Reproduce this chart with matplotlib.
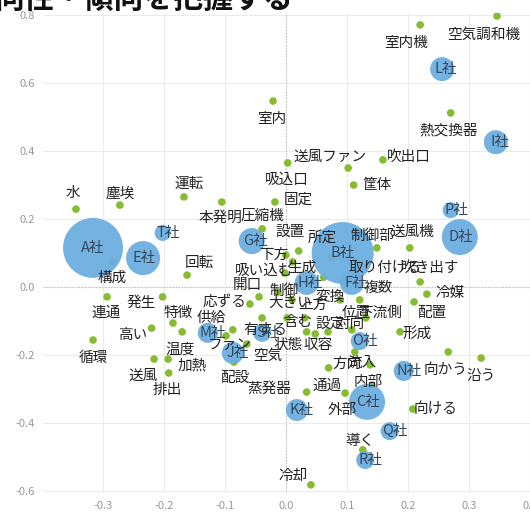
import matplotlib
matplotlib.use("Agg")
import matplotlib.pyplot as plt
import numpy as np

plt.rcParams['font.family'] = ['Noto Sans CJK JP', 'DejaVu Sans']

# words (green points)
words = ['空気調和機', '室内機', '室内', '熱交換器', '吸込口', '送風ファン', '吹出口', '筐体',
         '固定', '水', '塵埃', '運転', '本発明', '圧縮機', '設置', '所定', '制御部', '送風機',
         '取り付ける', '吹き出す', '複数', '冷媒', '配置', '下流側', '形成', '向かう', '沿う',
         '向ける', '導く', '冷却', '蒸発器', '通過', '外部', '方向', '流入', '内部', '状態',
         '収容', '空気', 'ファン', '配設', '循環', '送風', '加熱', '排出', '温度', '高い',
         '連通', '構成', '発生', '特徴', '回転', '供給', '応ずる', '開口', '下方', '吸い込む',
         '生成', '制御', '変換', '上方', '位置', '設定', '対向', '含む', '大きい', '有する']
word_x = [0.346, 0.220, -0.021, 0.270, 0.003, 0.102, 0.159, 0.111,
          -0.018, -0.344, -0.272, -0.167, -0.105, -0.039, 0.021, 0.074, 0.149, 0.203,
          0.115, 0.220, 0.121, 0.231, 0.210, 0.131, 0.187, 0.266, 0.320,
          0.208, 0.126, 0.041, 0.034, 0.070, 0.097, 0.113, 0.138, 0.141, 0.034,
          0.069, -0.064, -0.098, -0.085, -0.316, -0.216, -0.193, -0.192, -0.170, -0.220,
          -0.293, -0.284, -0.202, -0.185, -0.162, -0.087, -0.059, -0.044, 0.000, 0.011,
          -0.002, 0.010, 0.062, 0.031, 0.089, 0.048, 0.108, 0.002, -0.013, -0.039]
word_y = [0.797, 0.771, 0.547, 0.512, 0.365, 0.350, 0.374, 0.300,
          0.250, 0.229, 0.241, 0.265, 0.250, 0.171, 0.106, 0.085, 0.115, 0.115,
          0.074, 0.015, -0.038, -0.021, -0.044, -0.091, -0.132, -0.191, -0.209,
          -0.359, -0.479, -0.582, -0.309, -0.238, -0.312, -0.191, -0.229, -0.288, -0.132,
          -0.132, -0.168, -0.144, -0.221, -0.156, -0.212, -0.212, -0.253, -0.132, -0.121,
          -0.029, 0.074, -0.029, -0.106, 0.035, -0.126, -0.050, -0.029, 0.094, 0.074,
          0.041, -0.038, 0.029, -0.091, -0.038, -0.138, -0.126, -0.091, -0.015, -0.091]

# companies (blue bubbles)
companies = ['A社', 'B社', 'E社', 'T社', 'G社', 'F社', 'H社', 'D社', 'P社', 'L社',
             'I社', 'M社', 'J社', 'S社', 'O社', 'N社', 'C社', 'K社', 'Q社', 'R社']
comp_x = [-0.316, 0.093, -0.234, -0.202, -0.056, 0.108, 0.034, 0.285, 0.270, 0.256,
          0.344, -0.128, -0.087, -0.039, 0.121, 0.193, 0.133, 0.018, 0.170, 0.130]
comp_y = [0.115, 0.100, 0.085, 0.159, 0.135, 0.012, 0.012, 0.147, 0.226, 0.641,
          0.426, -0.135, -0.194, -0.135, -0.159, -0.247, -0.338, -0.362, -0.424, -0.509]
comp_n = [900, 960, 290, 64, 170, 144, 144, 324, 64, 144,
          144, 100, 121, 81, 81, 100, 324, 121, 81, 81]

# label offsets in pixels (right, down) so the labels sit like the original
lab_off = [(-13, 19), (-14, 18), (-1, 18), (-2, 18), (-1, 17), (-18, -11), (26, -3), (23, 0),
           (23, -2), (-3, -16), (0, -11), (5, -13), (-1, 16), (0, -13), (-9, -19), (-9, -20),
           (-4, -12), (3, -16), (29, 6), (10, -14), (18, -12), (23, -1), (18, 11), (14, -5),
           (17, 2), (-3, 18), (0, 18), (23, 0), (-3, -9), (-18, -9), (-37, -3), (-1, 18),
           (-3, 17), (-8, 12), (-8, -2), (-4, -3), (-18, 13), (-10, 13), (21, 12), (4, 9),
           (1, 16), (0, 18), (-11, 17), (24, 6), (-1, 17), (-2, 18), (-19, 7), (-1, 16),
           (0, 16), (-21, 6), (5, -10), (12, -12), (-21, -12), (-25, -2), (-12, -12), (-12, 0),
           (-28, 9), (17, -5), (-8, -9), (6, 20), (8, -13), (16, 13), (15, -10), (-2, -6),
           (11, 4), (12, 11), (3, 12)]

fig = plt.figure(figsize=(5.3, 5.15), dpi=100)
ax = fig.add_axes([43 / 530, 1 - 493 / 515, 487 / 530, 480 / 515])

ax.set_xlim(-0.398, 0.4)
ax.set_ylim(-0.606, 0.806)
ax.set_xticks(np.arange(-0.3, 0.41, 0.1))
ax.set_yticks(np.arange(-0.6, 0.81, 0.2))
ax.xaxis.set_major_formatter(matplotlib.ticker.FormatStrFormatter('%.1f'))
ax.yaxis.set_major_formatter(matplotlib.ticker.FormatStrFormatter('%.1f'))
ax.tick_params(length=0, labelsize=8, labelcolor='#999999', pad=6)
ax.grid(color='#ececec', lw=0.8)
ax.set_axisbelow(True)
for s in ax.spines.values():
    s.set_visible(False)
ax.axhline(0, color='#bbbbbb', lw=0.8, ls=':', zorder=1)
ax.axvline(0, color='#bbbbbb', lw=0.8, ls=':', zorder=1)

ax.scatter(word_x, word_y, s=30, color='#86bc2f', edgecolors='none', zorder=2)
# bubble area ~ count (radius in px ~ sqrt(count))
sizes = [n * 2.07 for n in comp_n]
ax.scatter(comp_x, comp_y, s=sizes, color='#6caee0', edgecolors='none', alpha=0.95, zorder=3)

for w, x, y, (dx, dy) in zip(words, word_x, word_y, lab_off):
    ax.annotate(w, (x, y), xytext=(dx * 0.72, -dy * 0.72), textcoords='offset points',
                ha='center', va='center', fontsize=10.5, color='#222222', zorder=5)

for c, x, y, n in zip(companies, comp_x, comp_y, comp_n):
    dx = max(0, 10 - np.sqrt(n) / 2)
    ax.annotate(c, (x, y), xytext=(dx * 0.72, 0), textcoords='offset points',
                ha='center', va='center', fontsize=10.5, color='#34495e', zorder=6)

# title, cut off at the top like the original
fig.text(-0.01, 1.002, '向性・傾向を把握する', fontsize=21.5, fontweight='bold',
         ha='left', va='center', color='#111111')

fig.savefig('out.png', dpi=100)
